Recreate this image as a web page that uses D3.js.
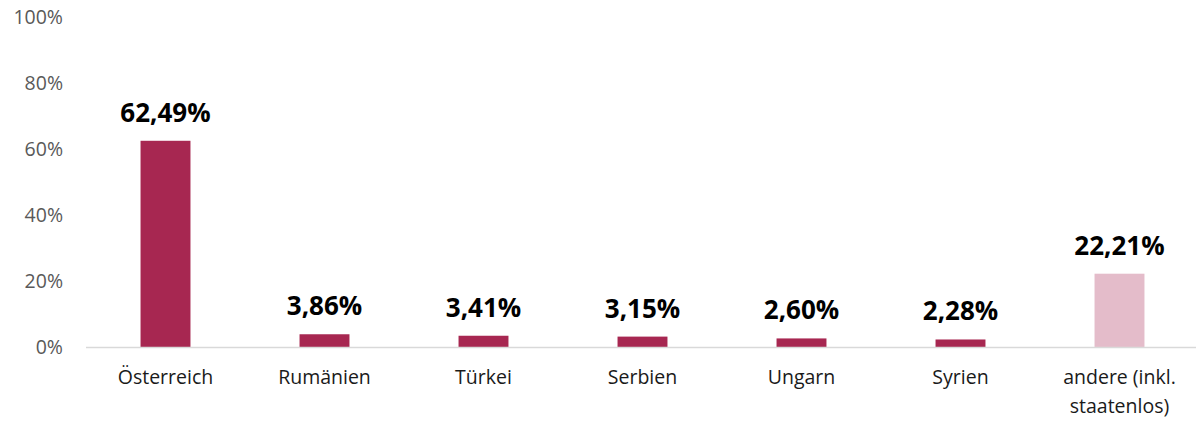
<!DOCTYPE html>
<html><head><meta charset="utf-8">
<script src="https://cdn.jsdelivr.net/npm/d3@7"></script>
<style>body{margin:0;background:#fff;} svg{display:block;}</style>
</head><body>
<svg id="chart" width="1196" height="421"></svg>
<script>
const categories = ["Österreich","Rumänien","Türkei","Serbien","Ungarn","Syrien","andere (inkl.|staatenlos)"];
const values = [62.49, 3.86, 3.41, 3.15, 2.60, 2.28, 22.21];
const labels = ["62,49%","3,86%","3,41%","3,15%","2,60%","2,28%","22,21%"];
const highlight = [false,false,false,false,false,false,true];
const yTicks = [0,20,40,60,80,100];

const svg = d3.select("#chart");
const x = d3.scaleBand().domain(categories).range([86, 1199]).paddingInner(0.686).paddingOuter(0.343);
const y = d3.scaleLinear().domain([0,100]).range([347, 17]);

// y tick labels
svg.append("g").selectAll("text").data(yTicks).join("text")
  .attr("x", 63).attr("y", d => y(d)).attr("dy", "0.36em")
  .attr("text-anchor","end")
  .style("font-family","'Open Sans', sans-serif").style("font-size","19.5px").style("fill","#595959")
  .text(d => d + "%");

// bars
svg.append("g").selectAll("rect").data(values).join("rect")
  .attr("x", (d,i) => x(categories[i]))
  .attr("width", x.bandwidth())
  .attr("y", d => y(d))
  .attr("height", d => y(0) - y(d))
  .attr("fill", (d,i) => highlight[i] ? "#E4BCCA" : "#A72751");

// baseline
svg.append("line").attr("x1", 86).attr("x2", 1196).attr("y1", y(0)+0.5).attr("y2", y(0)+0.5)
  .attr("stroke","#d9d9d9").attr("stroke-width",1.5);

// value labels
svg.append("g").selectAll("text").data(values).join("text")
  .attr("x", (d,i) => x(categories[i]) + x.bandwidth()/2)
  .attr("y", d => y(d) - 19)
  .attr("text-anchor","middle")
  .style("font-family","'Open Sans', sans-serif").style("font-weight","bold").style("font-size","26px").style("fill","#000")
  .text((d,i) => labels[i]);

// category labels
const cat = svg.append("g").selectAll("text").data(categories).join("text")
  .attr("x", d => x(d) + x.bandwidth()/2)
  .attr("y", 384)
  .attr("text-anchor","middle")
  .style("font-family","'Open Sans', sans-serif").style("font-size","19.5px").style("fill","#1a1a1a");
cat.each(function(d){
  const parts = d.split("|");
  const t = d3.select(this);
  parts.forEach((p,j) => {
    t.append("tspan").attr("x", t.attr("x")).attr("dy", j === 0 ? 0 : "1.5em").text(p);
  });
});
</script>
</body></html>
